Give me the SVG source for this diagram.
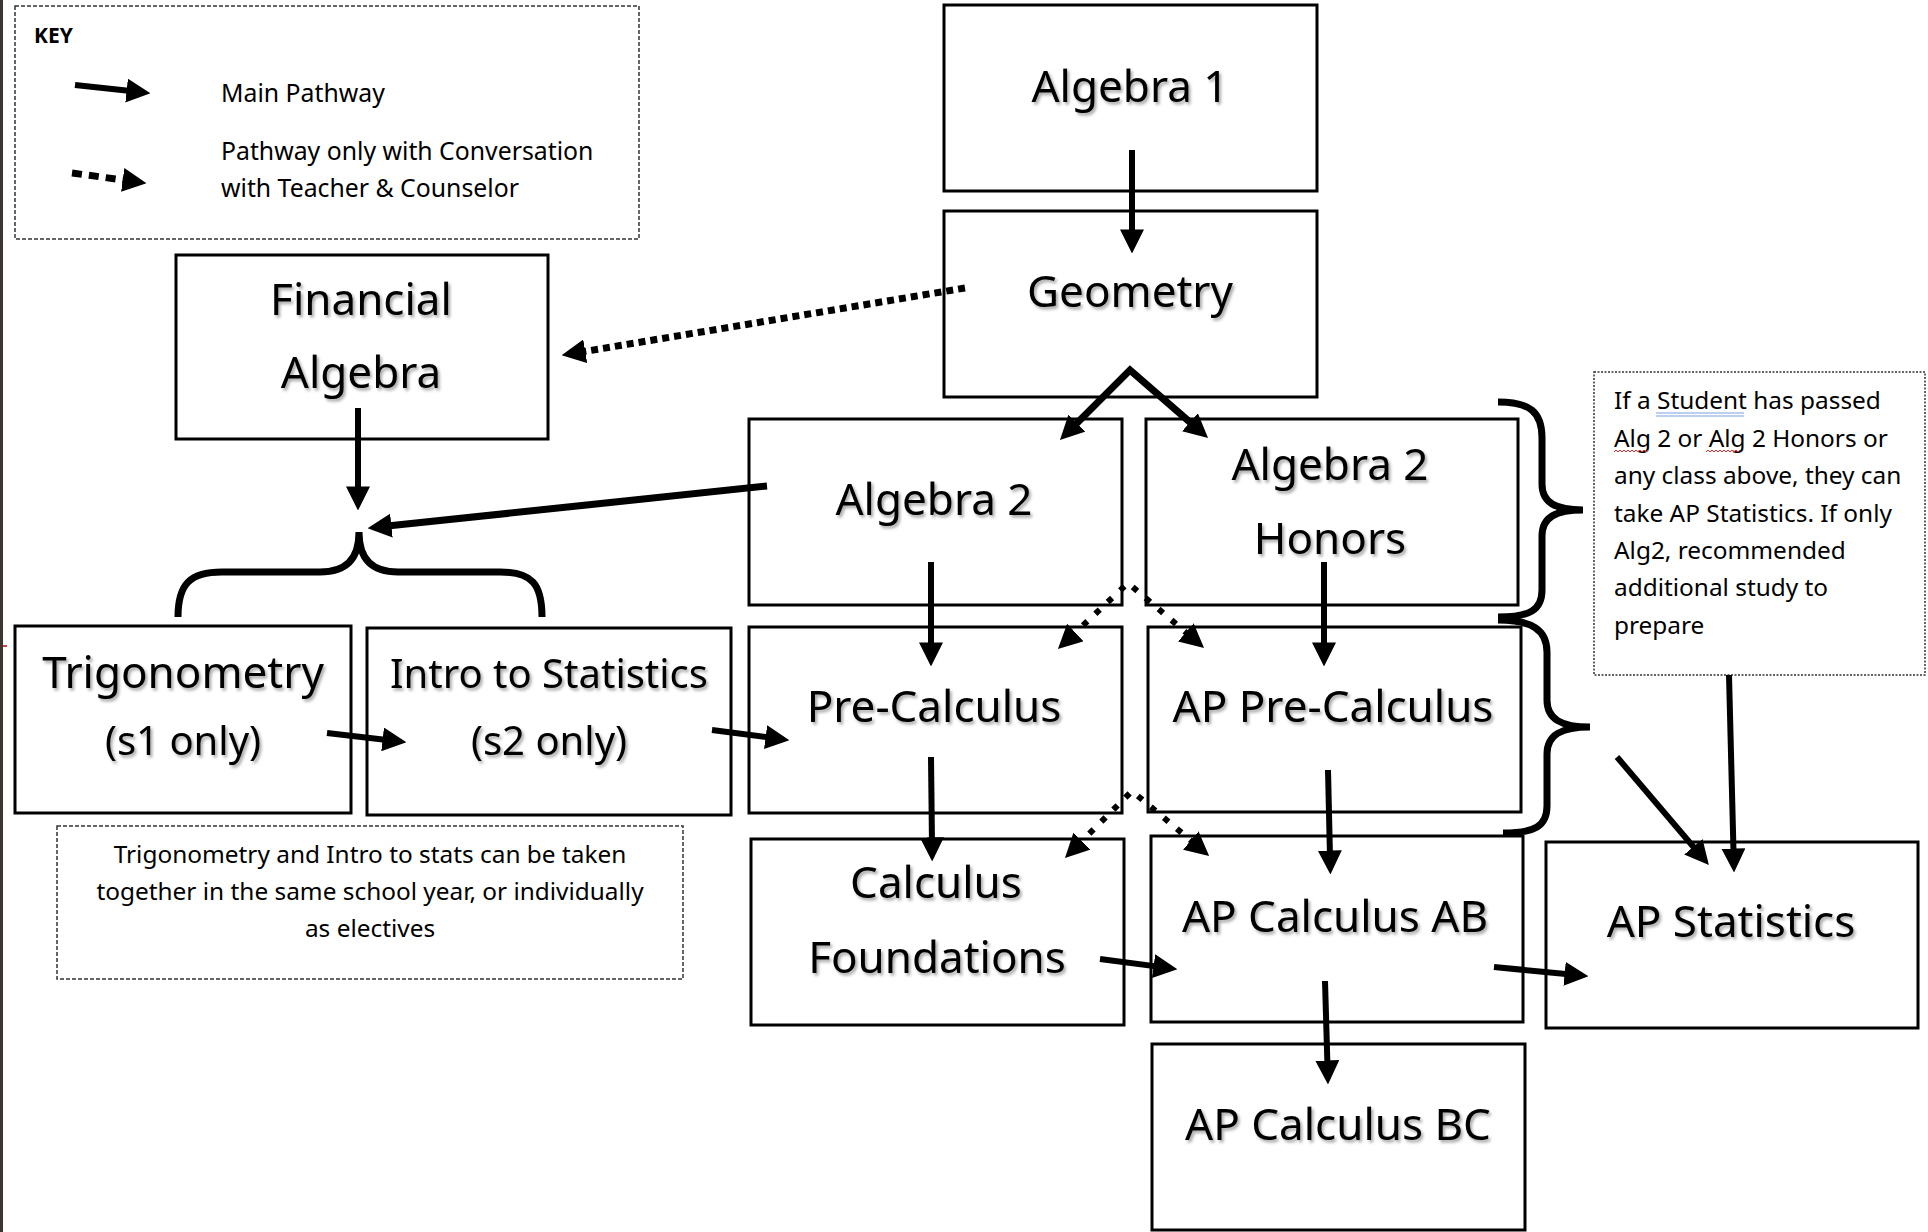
<svg xmlns="http://www.w3.org/2000/svg" width="1928" height="1232" viewBox="0 0 1928 1232">
<defs>
<style>
.box{fill:#fff;stroke:#000;stroke-width:3}
.lbl{font-family:"Noto Sans","Open Sans",sans-serif;font-size:44px;fill:#000;text-anchor:middle;filter:url(#sh)}
.sm{font-size:40px}
.note{font-family:"Noto Sans","Open Sans",sans-serif;font-size:24.4px;fill:#000}
.keyt{font-size:24.8px}
.ctr{text-anchor:middle}
.solid{fill:none;stroke:#000;stroke-width:6;marker-end:url(#ah)}
.dot{fill:none;stroke:#000;stroke-width:7;stroke-dasharray:7 5;marker-end:url(#ah)}
.brace{fill:none;stroke:#000;stroke-width:7;stroke-linecap:butt}
</style>
<filter id="sh" x="-10%" y="-20%" width="120%" height="150%">
<feDropShadow dx="2" dy="2.5" stdDeviation="1.5" flood-color="#000" flood-opacity="0.35"/>
</filter>
<marker id="ah" markerUnits="userSpaceOnUse" markerWidth="24" markerHeight="24" viewBox="0 0 22 22" refX="6" refY="11" orient="auto">
<path d="M0,0 L22,11 L0,22 z" fill="#000"/>
</marker>
<marker id="ahs" markerUnits="userSpaceOnUse" markerWidth="24" markerHeight="24" viewBox="0 0 22 22" refX="6" refY="11" orient="auto-start-reverse">
<path d="M0,0 L22,11 L0,22 z" fill="#000"/>
</marker>
</defs>
<rect x="0" y="0" width="1928" height="1232" fill="#fff"/>
<rect x="0" y="0" width="3" height="1232" fill="#3b3631"/>
<rect x="3" y="645" width="4" height="2" fill="#d04040"/>

<g id="key">
<rect x="15" y="6" width="624" height="233" fill="none" stroke="#333" stroke-width="1.5" stroke-dasharray="4 2"/>
<text x="34" y="43" style="font-family:'Noto Sans','Open Sans',sans-serif;font-size:21px;font-weight:bold">KEY</text>
<path class="solid" d="M75,85 L133.1,91.3"/>
<path class="dot" style="stroke-dasharray:10 7" d="M72,173 L129.2,180.8"/>
<text class="note keyt" x="221" y="102">Main Pathway</text>
<text class="note keyt" x="221" y="160">Pathway only with Conversation</text>
<text class="note keyt" x="221" y="197">with Teacher &amp; Counselor</text>
</g>

<g id="algebra1"><rect class="box" x="944" y="5" width="373" height="186"/><text class="lbl" x="1130" y="102">Algebra 1</text></g>
<g id="geometry"><rect class="box" x="944" y="211" width="373" height="186"/><text class="lbl" x="1130" y="307">Geometry</text></g>
<g id="financial-algebra"><rect class="box" x="176" y="255" width="372" height="184"/><text class="lbl" x="361" y="315">Financial</text><text class="lbl" x="361" y="388">Algebra</text></g>
<g id="algebra2"><rect class="box" x="749" y="419" width="373" height="186"/><text class="lbl" x="934" y="515">Algebra 2</text></g>
<g id="algebra2-honors"><rect class="box" x="1146" y="419" width="372" height="186"/><text class="lbl" x="1330" y="480">Algebra 2</text><text class="lbl" x="1330" y="554">Honors</text></g>
<g id="pre-calculus"><rect class="box" x="749" y="627" width="373" height="186"/><text class="lbl" x="934" y="722">Pre-Calculus</text></g>
<g id="ap-pre-calculus"><rect class="box" x="1148" y="627" width="373" height="185"/><text class="lbl" x="1333" y="722">AP Pre-Calculus</text></g>
<g id="trigonometry"><rect class="box" x="15" y="626" width="336" height="187"/><text class="lbl" x="183" y="688">Trigonometry</text><text class="lbl sm" x="183" y="755">(s1 only)</text></g>
<g id="intro-statistics"><rect class="box" x="367" y="628" width="364" height="187"/><text class="lbl sm" x="549" y="688">Intro to Statistics</text><text class="lbl sm" x="549" y="755">(s2 only)</text></g>
<g id="calculus-foundations"><rect class="box" x="751" y="839" width="373" height="186"/><text class="lbl" x="936" y="898">Calculus</text><text class="lbl" x="937" y="973">Foundations</text></g>
<g id="ap-calculus-ab"><rect class="box" x="1151" y="836" width="372" height="186"/><text class="lbl" x="1335" y="932">AP Calculus AB</text></g>
<g id="ap-calculus-bc"><rect class="box" x="1152" y="1044" width="373" height="186"/><text class="lbl" x="1338" y="1140">AP Calculus BC</text></g>
<g id="ap-statistics"><rect class="box" x="1546" y="842" width="372" height="186"/><text class="lbl" x="1731" y="937">AP Statistics</text></g>

<g id="trig-note">
<rect x="57" y="826" width="626" height="153" fill="none" stroke="#333" stroke-width="1.5" stroke-dasharray="4 2"/>
<text class="note ctr" x="370" y="863">Trigonometry and Intro to stats can be taken</text>
<text class="note ctr" x="370" y="900">together in the same school year, or individually</text>
<text class="note ctr" x="370" y="937">as electives</text>
</g>

<g id="apstats-note">
<rect x="1594" y="372" width="331" height="303" fill="none" stroke="#333" stroke-width="1.5" stroke-dasharray="2 1.5"/>
<text class="note" x="1614" y="409">If a Student has passed</text>
<text class="note" x="1614" y="447">Alg 2 or Alg 2 Honors or</text>
<text class="note" x="1614" y="484">any class above, they can</text>
<text class="note" x="1614" y="522">take AP Statistics. If only</text>
<text class="note" x="1614" y="559">Alg2, recommended</text>
<text class="note" x="1614" y="596">additional study to</text>
<text class="note" x="1614" y="634">prepare</text>
<path d="M1656,413 H1744 M1656,416 H1744" stroke="#7b9fe0" stroke-width="1"/>
<path d="M1614,452 l2,-2 l2,2 l2,-2 l2,2 l2,-2 l2,2 l2,-2 l2,2 l2,-2 l2,2 l2,-2 l2,2 l2,-2 l2,2 l2,-2 l2,2 l2,-2 M1706,452 l2,-2 l2,2 l2,-2 l2,2 l2,-2 l2,2 l2,-2 l2,2 l2,-2 l2,2 l2,-2 l2,2 l2,-2 l2,2 l2,-2 l2,2 l2,-2" fill="none" stroke="#e03030" stroke-width="1"/>
</g>

<g id="connectors">
<path class="solid" d="M1132,150 L1132,236"/>
<path class="dot" d="M965,288 L578.8,352.4"/>
<path fill="none" stroke="#000" stroke-width="7" stroke-linejoin="miter" marker-start="url(#ahs)" marker-end="url(#ah)" d="M1072.3,427.7 L1130,370 L1194.9,426.5"/>
<path class="solid" d="M358,408 L358,493"/>
<path class="solid" style="stroke-width:7" d="M767,486 L384.9,526.3"/>
<path class="solid" d="M327,733 L389.1,740.2"/>
<path class="solid" d="M712,730 L772.1,737.9"/>
<path class="solid" d="M931,562 L931,649"/>
<path class="solid" d="M1324,562 L1324,649"/>
<path fill="none" stroke="#000" stroke-width="6" stroke-dasharray="6 11" marker-start="url(#ahs)" marker-end="url(#ah)" d="M1070.6,637 L1128,583 L1190.8,636.6"/>
<path class="solid" d="M931,757 L932,844"/>
<path class="solid" d="M1328,770 L1330,857"/>
<path fill="none" stroke="#000" stroke-width="6" stroke-dasharray="6 11" marker-start="url(#ahs)" marker-end="url(#ah)" d="M1077.3,845.7 L1132,791 L1195.8,844.7"/>
<path class="solid" d="M1100,959 L1160.1,966.9"/>
<path class="solid" d="M1325,981 L1327.5,1067"/>
<path class="solid" d="M1494,967 L1571.1,974.5"/>
<path class="solid" d="M1617,757 L1697.6,851.8"/>
<path class="solid" d="M1729,675 L1733.6,855"/>
<path class="brace" d="M178,617 C178,584 190,572 222,572 L320,572 C345,572 359,560 359,532 C359,560 373,572 398,572 L500,572 C532,572 542,584 542,617"/>
<path class="brace" d="M1498,402 C1530,402 1542,412 1542,438 L1542,484 C1542,503 1556,510 1583,510 C1556,510 1542,517 1542,536 L1542,590 C1542,610 1530,617 1498,617"/>
<path class="brace" d="M1498,620 C1532,620 1547,630 1547,652 L1547,700 C1547,719 1561,727 1590,727 C1561,727 1547,735 1547,754 L1547,806 C1547,826 1535,833 1503,833"/>
</g>
</svg>
